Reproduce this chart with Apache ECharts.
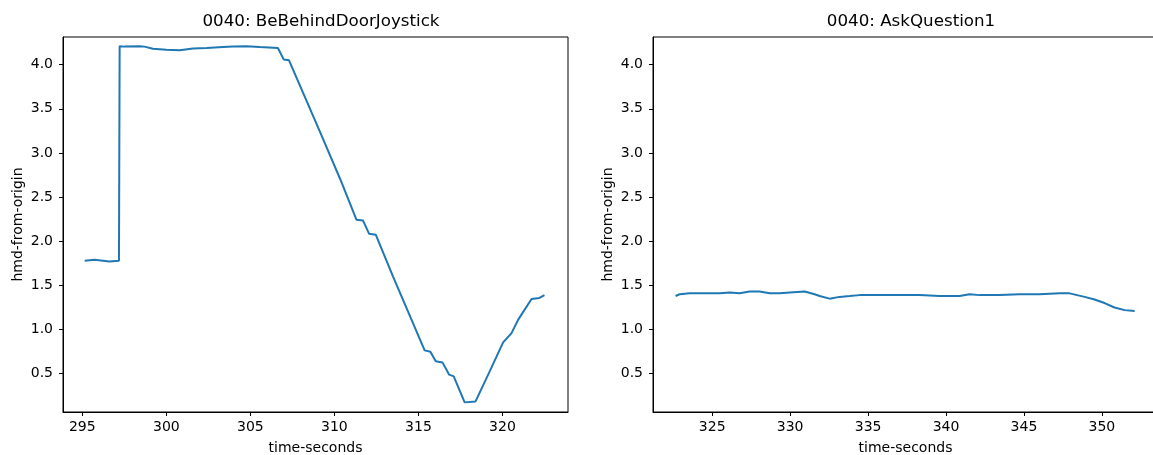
<!DOCTYPE html>
<html>
<head>
<meta charset="utf-8">
<script src="https://cdn.jsdelivr.net/npm/echarts@6/dist/echarts.min.js"></script>
<style>
  html, body { margin: 0; padding: 0; background: #fff; }
  #chart { width: 1153px; height: 455px; }
</style>
</head>
<body>
<div id="chart"></div>
<script>
// Session 0040: head-mounted display distance from origin over time

const titles = ['0040: BeBehindDoorJoystick', '0040: AskQuestion1'];
const xName = 'time-seconds';
const yName = 'hmd-from-origin';

// BeBehindDoorJoystick segment
const doorTime = [
  295.14, 295.73, 296.23, 296.6, 297.18, 297.22, 297.5, 298.4, 298.7, 299.2,
  300.0, 300.79, 301.58, 302.4, 303.37, 303.96, 304.76, 305.55, 306.64, 306.98,
  307.3, 309.13, 310.36, 311.31, 311.7, 312.06, 312.46, 313.49, 315.37, 315.71,
  316.03, 316.43, 316.83, 317.1, 317.75, 318.4, 319.24, 320.04, 320.54, 320.93,
  321.73, 322.2, 322.5
];
const doorDist = [
  1.78, 1.79, 1.78, 1.77, 1.78, 4.21, 4.205, 4.21, 4.205, 4.18,
  4.17, 4.165, 4.185, 4.19, 4.2, 4.205, 4.21, 4.2, 4.19, 4.06,
  4.05, 3.245, 2.697, 2.244, 2.236, 2.086, 2.075, 1.60, 0.764, 0.749,
  0.64, 0.628, 0.489, 0.47, 0.175, 0.186, 0.526, 0.855, 0.96, 1.11,
  1.346, 1.358, 1.39
];

// AskQuestion1 segment
const askTime = [
  322.65, 322.91, 323.55, 324.2, 324.84, 325.48, 326.12, 326.76, 327.4, 328.04,
  328.69, 329.33, 329.97, 330.93, 331.57, 331.89, 332.53, 333.17, 333.82, 334.46,
  335.74, 337.02, 338.3, 339.59, 340.87, 341.51, 342.15, 343.44, 344.72, 346.0,
  347.29, 347.93, 348.89, 349.53, 350.17, 350.81, 351.46, 352.1
];
const askDist = [
  1.38, 1.40, 1.41, 1.41, 1.41, 1.41, 1.42, 1.41, 1.43, 1.43,
  1.41, 1.41, 1.42, 1.43, 1.40, 1.38, 1.35, 1.37, 1.38, 1.39,
  1.39, 1.39, 1.39, 1.38, 1.38, 1.40, 1.39, 1.39, 1.40, 1.40,
  1.41, 1.41, 1.37, 1.34, 1.30, 1.25, 1.22, 1.21
];

// Tick values
const doorTicks = [295, 300, 305, 310, 315, 320];
const askTicks = [325, 330, 335, 340, 345, 350];
const distTicks = [0.5, 1.0, 1.5, 2.0, 2.5, 3.0, 3.5, 4.0];

const FONT = 'DejaVu Sans';
const INK = '#000';
const LINE = '#1f77b4';

function pairs(xs, ys) { return xs.map((x, i) => [x, ys[i]]); }

function xAxisFor(gridIndex, min, max, ticks) {
  return {
    type: 'value', gridIndex, min, max,
    name: xName, nameLocation: 'middle', nameGap: 29,
    nameTextStyle: { fontFamily: FONT, fontSize: 14, color: INK },
    axisLine: { show: true, lineStyle: { color: INK, width: 1 } },
    axisTick: { show: true, inside: false, length: 4, lineStyle: { color: INK, width: 1 }, customValues: ticks },
    axisLabel: { show: true, margin: 8, fontFamily: FONT, fontSize: 14, color: INK, customValues: ticks,
      formatter: v => String(Math.round(v)) },
    splitLine: { show: false }
  };
}

function yAxisFor(gridIndex) {
  return {
    type: 'value', gridIndex, min: 0.066, max: 4.314,
    name: yName, nameLocation: 'middle', nameGap: 38,
    nameTextStyle: { fontFamily: FONT, fontSize: 14, color: INK },
    axisLine: { show: true, lineStyle: { color: INK, width: 1 } },
    axisTick: { show: true, inside: false, length: 4, lineStyle: { color: INK, width: 1 }, customValues: distTicks },
    axisLabel: { show: true, margin: 10, fontFamily: FONT, fontSize: 14, color: INK, customValues: distTicks,
      formatter: v => v.toFixed(1) },
    splitLine: { show: false }
  };
}

const chart = echarts.init(document.getElementById('chart'), null, { renderer: 'canvas' });

const gridBase = {
  top: 37, width: 505, height: 375, show: true,
  borderColor: INK, borderWidth: 1, backgroundColor: 'transparent',
  outerBoundsMode: 'none', containLabel: false
};

chart.setOption({
  animation: false,
  backgroundColor: '#fff',
  title: [
    { text: titles[0], left: 316, top: 8, textAlign: 'center',
      textStyle: { fontFamily: FONT, fontSize: 16.7, fontWeight: 'normal', color: INK } },
    { text: titles[1], left: 906, top: 8, textAlign: 'center',
      textStyle: { fontFamily: FONT, fontSize: 16.7, fontWeight: 'normal', color: INK } }
  ],
  grid: [
    Object.assign({ left: 63 }, gridBase),
    Object.assign({ left: 653 }, gridBase)
  ],
  xAxis: [
    xAxisFor(0, 293.85, 323.9, doorTicks),
    xAxisFor(1, 321.2, 353.6, askTicks)
  ],
  yAxis: [yAxisFor(0), yAxisFor(1)],
  series: [
    { type: 'line', xAxisIndex: 0, yAxisIndex: 0, data: pairs(doorTime, doorDist),
      showSymbol: false, lineStyle: { color: LINE, width: 2 }, itemStyle: { color: LINE } },
    { type: 'line', xAxisIndex: 1, yAxisIndex: 1, data: pairs(askTime, askDist),
      showSymbol: false, lineStyle: { color: LINE, width: 2 }, itemStyle: { color: LINE } }
  ]
});
</script>
</body>
</html>
